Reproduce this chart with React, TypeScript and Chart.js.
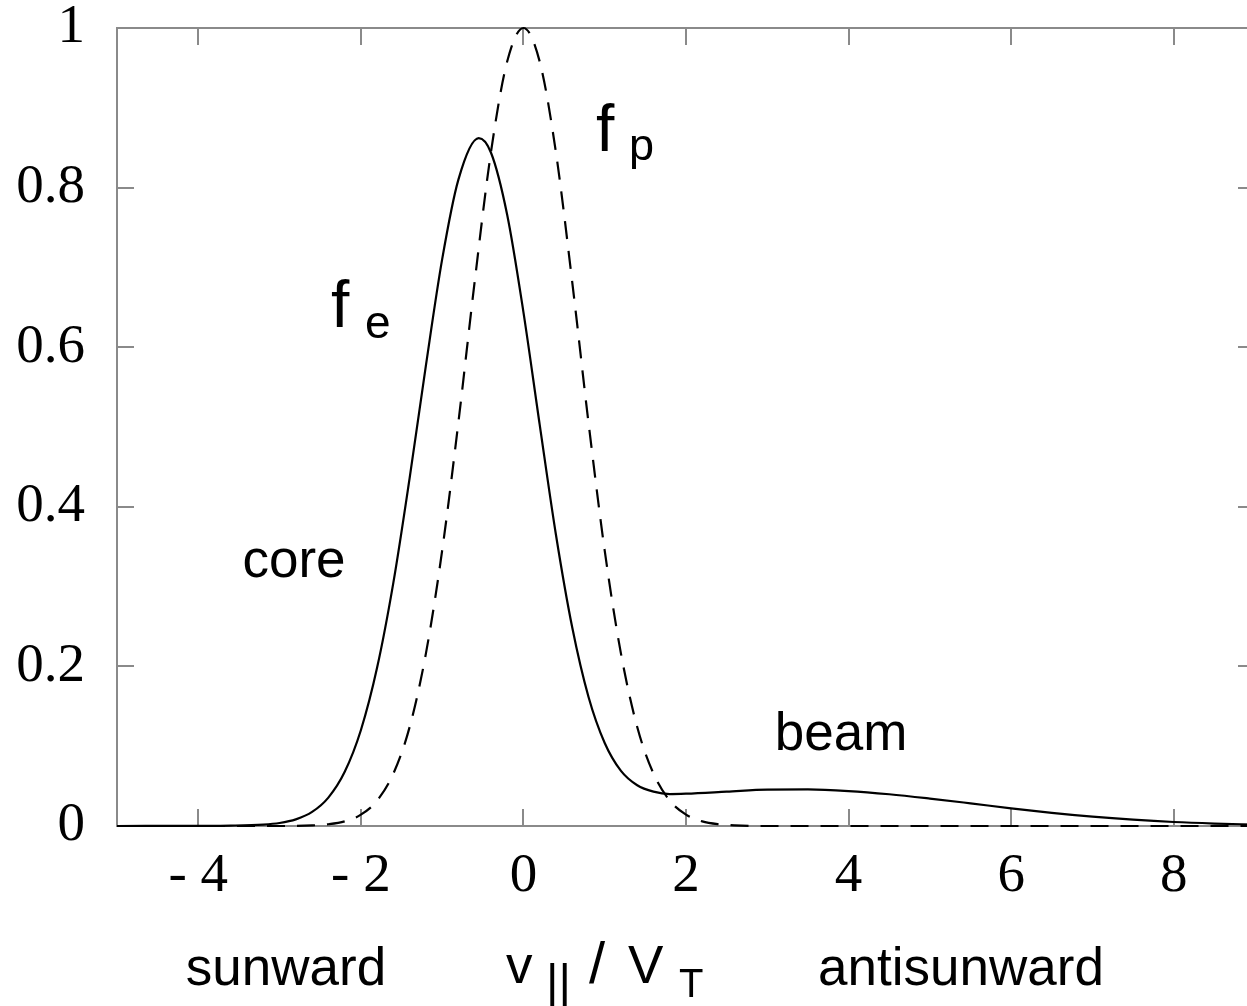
import React, { useEffect, useRef } from "react";
import { Chart, registerables } from "chart.js";

Chart.register(...registerables);

// ---- data ----
const X_TICKS = [-4, -2, 0, 2, 4, 6, 8];
const X_TICK_LABELS = ["- 4", "- 2", "0", "2", "4", "6", "8"];
const Y_TICKS = [0, 0.2, 0.4, 0.6, 0.8, 1];
const Y_TICK_LABELS = ["0", "0.2", "0.4", "0.6", "0.8", "1"];

// electron distribution f_e (core + beam), solid line
const FE_X = [
  -5, -4, -3.6, -3.2, -3.0, -2.8, -2.6, -2.4, -2.2, -2.0, -1.8, -1.6, -1.4, -1.2, -1.0,
  -0.8, -0.55, -0.4, -0.2, 0, 0.2, 0.4, 0.6, 0.8, 1.0, 1.2, 1.4, 1.6, 1.8, 2.0, 2.5,
  3.0, 3.5, 4.0, 4.5, 5.0, 5.5, 6.0, 6.5, 7.0, 7.5, 8.0, 8.5, 9.0,
];
const FE_Y = [
  0, 0.0002, 0.0005, 0.0018, 0.0038, 0.0083, 0.0176, 0.0356, 0.0676, 0.12, 0.1985, 0.305, 0.436, 0.577, 0.71,
  0.81, 0.862, 0.844, 0.766, 0.644, 0.503, 0.365, 0.249, 0.162, 0.104, 0.069, 0.051, 0.043, 0.04, 0.0405, 0.043,
  0.0456, 0.0458, 0.0438, 0.0398, 0.0344, 0.0284, 0.0222, 0.0165, 0.0117, 0.0079, 0.005, 0.0031, 0.0018,
];

// proton distribution f_p, dashed line
const FP_X = [
  -5, -3, -2.6, -2.4, -2.2, -2.0, -1.8, -1.6, -1.4, -1.2, -1.0, -0.8, -0.6, -0.4, -0.2, 0,
  0.2, 0.4, 0.6, 0.8, 1.0, 1.2, 1.4, 1.6, 1.8, 2.0, 2.2, 2.4, 2.6, 3, 9,
];
const FP_Y = [
  0, 0, 0.0008, 0.0022, 0.0058, 0.0142, 0.0318, 0.0657, 0.124, 0.216, 0.345, 0.506, 0.682, 0.844, 0.958, 1.0,
  0.958, 0.844, 0.682, 0.506, 0.345, 0.216, 0.124, 0.0657, 0.0318, 0.0142, 0.0058, 0.0022, 0.0008, 0, 0,
];

const SANS = '"Liberation Sans", Arial, sans-serif';
const SERIF = '"Liberation Serif", "Times New Roman", serif';

const W = 1265;
const H = 1006;

function txt(ctx: CanvasRenderingContext2D, s: string, x: number, y: number, size: number, align: CanvasTextAlign = "left") {
  ctx.font = `${size}px ${SANS}`;
  ctx.textAlign = align;
  ctx.textBaseline = "alphabetic";
  ctx.fillText(s, x, y);
}

const framePlugin = {
  id: "frame",
  beforeDatasetsDraw(chart: any) {
    const { ctx, chartArea: a, scales } = chart;
    ctx.save();
    ctx.strokeStyle = "#8a8a8a";
    ctx.lineWidth = 2;
    ctx.strokeRect(a.left, a.top, a.right - a.left, a.bottom - a.top);
    const T = 17;
    ctx.beginPath();
    X_TICKS.forEach((v) => {
      const x = Math.round(scales.x.getPixelForValue(v));
      ctx.moveTo(x, a.bottom);
      ctx.lineTo(x, a.bottom - T);
      ctx.moveTo(x, a.top);
      ctx.lineTo(x, a.top + T);
    });
    Y_TICKS.forEach((v) => {
      const y = Math.round(scales.y.getPixelForValue(v));
      ctx.moveTo(a.left, y);
      ctx.lineTo(a.left + T, y);
      ctx.moveTo(a.right, y);
      ctx.lineTo(a.right - T, y);
    });
    ctx.stroke();
    ctx.restore();
  },
  afterDraw(chart: any) {
    const ctx: CanvasRenderingContext2D = chart.ctx;
    ctx.save();
    ctx.fillStyle = "#000";
    // curve labels
    txt(ctx, "f", 596, 151, 66);
    txt(ctx, "p", 629, 160, 45);
    txt(ctx, "f", 331, 327, 66);
    txt(ctx, "e", 365, 338, 46);
    txt(ctx, "core", 294, 577, 53, "center");
    txt(ctx, "beam", 841, 750, 53, "center");
    // axis caption
    txt(ctx, "sunward", 286, 985, 53, "center");
    txt(ctx, "antisunward", 961, 985, 53, "center");
    txt(ctx, "v", 506, 983, 53);
    txt(ctx, "||", 546, 998, 48);
    txt(ctx, "/", 589, 983, 58);
    txt(ctx, "V", 628, 983, 53);
    txt(ctx, "T", 679, 997, 40);
    ctx.restore();
  },
};

export default function App() {
  const ref = useRef<HTMLCanvasElement | null>(null);

  useEffect(() => {
    if (!ref.current) return;
    const chart = new Chart(ref.current, {
      type: "line",
      data: {
        datasets: [
          {
            label: "f_e",
            data: FE_X.map((x, i) => ({ x, y: FE_Y[i] })),
            borderColor: "#000",
            borderWidth: 2.2,
            pointRadius: 0,
            tension: 0.4,
            cubicInterpolationMode: "monotone",
            fill: false,
            clip: 6,
          },
          {
            label: "f_p",
            data: FP_X.map((x, i) => ({ x, y: FP_Y[i] })),
            borderColor: "#000",
            borderWidth: 2.2,
            borderDash: [18, 12],
            pointRadius: 0,
            tension: 0.4,
            cubicInterpolationMode: "monotone",
            fill: false,
            clip: 6,
          },
        ],
      } as any,
      options: {
        animation: false,
        responsive: false,
        devicePixelRatio: 1,
        layout: { padding: { left: 0, top: 28, right: 10, bottom: 0 } },
        plugins: { legend: { display: false }, tooltip: { enabled: false } },
        events: [],
        scales: {
          x: {
            type: "linear",
            min: -5,
            max: 9,
            grid: { display: false, drawTicks: false },
            border: { display: false },
            afterBuildTicks: (scale: any) => {
              scale.ticks = X_TICKS.map((v) => ({ value: v }));
            },
            afterFit: (scale: any) => {
              scale.height = 180;
              scale.paddingLeft = 0;
              scale.paddingRight = 0;
            },
            ticks: {
              autoSkip: false,
              maxRotation: 0,
              padding: 18,
              color: "#000",
              font: { family: SERIF, size: 55 },
              callback: (v: any) => {
                const i = X_TICKS.indexOf(Number(v));
                return i >= 0 ? X_TICK_LABELS[i] : "";
              },
            },
          },
          y: {
            type: "linear",
            min: 0,
            max: 1,
            grid: { display: false, drawTicks: false },
            border: { display: false },
            afterBuildTicks: (scale: any) => {
              scale.ticks = Y_TICKS.map((v) => ({ value: v }));
            },
            afterFit: (scale: any) => {
              scale.width = 117;
              scale.paddingTop = 0;
              scale.paddingBottom = 0;
            },
            ticks: {
              autoSkip: false,
              padding: 32,
              color: "#000",
              font: { family: SERIF, size: 55 },
              callback: (v: any) => {
                const i = Y_TICKS.findIndex((t) => Math.abs(t - Number(v)) < 1e-9);
                return i >= 0 ? Y_TICK_LABELS[i] : "";
              },
            },
          },
        },
      } as any,
      plugins: [framePlugin],
    });
    return () => chart.destroy();
  }, []);

  return (
    <div
      style={{
        position: "fixed",
        left: 0,
        top: 0,
        width: 1247,
        height: 1006,
        overflow: "hidden",
        background: "#fff",
      }}
    >
      <canvas ref={ref} width={W} height={H} style={{ display: "block", width: W, height: H }} />
    </div>
  );
}
